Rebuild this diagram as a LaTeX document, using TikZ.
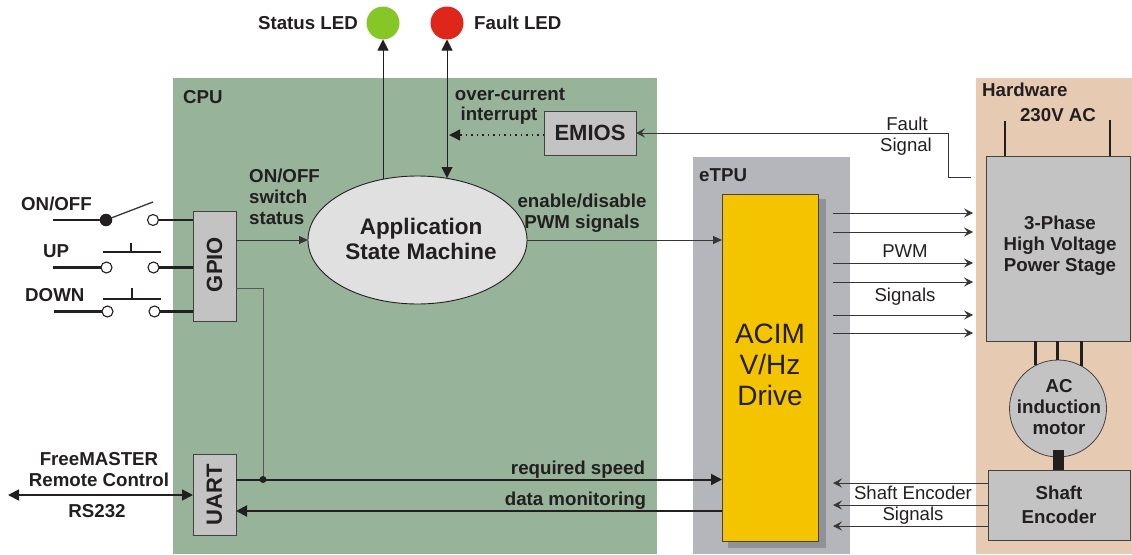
\documentclass[tikz,border=0pt]{standalone}
\usepackage{fontspec}
\setmainfont{Liberation Sans}
\usetikzlibrary{arrows.meta,shapes.geometric}
\definecolor{ink}{HTML}{231F20}
\definecolor{cpugreen}{HTML}{97B49B}
\definecolor{etpugrey}{HTML}{B4B6BB}
\definecolor{shadowgrey}{HTML}{8F9297}
\definecolor{hwtan}{HTML}{E6CBB2}
\definecolor{boxgrey}{HTML}{C2C3C2}
\definecolor{ellgrey}{HTML}{E0E0E0}
\definecolor{acimyellow}{HTML}{F5C400}
\definecolor{ledgreen}{HTML}{86C627}
\definecolor{ledred}{HTML}{DE261B}
\newcommand{\fs}[1]{\fontsize{#1}{#1}\selectfont}
\tikzset{
  panel/.style={draw=none,inner sep=0pt,outer sep=0pt},
  blockbox/.style={draw=ink!85,line width=.8pt,fill=boxgrey,inner sep=0pt,outer sep=0pt,text=ink,font=\bfseries\fs{18.7},align=center},
  lab/.style={text=ink,font=\bfseries\fs{18.7},align=center,inner sep=0pt},
  lablight/.style={text=ink,font=\fs{18.6},align=center,inner sep=0pt},
  terminal/.style={circle,draw=ink,line width=1.1pt,fill=white,minimum size=11pt,inner sep=0pt,outer sep=0pt},
  pivot/.style={circle,fill=ink,minimum size=12.5pt,inner sep=0pt,outer sep=0pt},
  led/.style={circle,minimum size=33pt,inner sep=0pt,outer sep=0pt},
  wire/.style={draw=ink,line width=2.6pt},
  thin/.style={draw=ink!90,line width=1pt},
  thintip/.style={thin,-{Stealth[length=9pt,width=9pt,inset=3.5pt]}},
  thicktip/.style={draw=ink,line width=2pt,-{Triangle[length=11pt,width=11pt]}},
  midtip/.style={draw=ink,line width=1pt,-{Triangle[length=11pt,width=11pt]}},
  dot/.style={circle,fill=ink,minimum size=7pt,inner sep=0pt,outer sep=0pt},
}
\begin{document}
\begin{tikzpicture}[x=1pt,y=-1pt]
\useasboundingbox (0,0) rectangle (1132,554);
% panels
\node[panel,fill=cpugreen,minimum width=484pt,minimum height=476pt] (cpu) at (415,316) {};
\node[panel,fill=etpugrey,minimum width=157pt,minimum height=397pt] (etpu) at (771.5,355.5) {};
\node[panel,fill=hwtan,minimum width=156pt,minimum height=476pt] (hw) at (1054,316) {};
\node[panel,fill=shadowgrey,minimum width=98pt,minimum height=349pt] (acimshadow) at (777,373.5) {};
% blocks
\node[blockbox,minimum width=96pt,minimum height=347pt,fill=acimyellow,line width=.9pt] (acim) at (770,367.5) {};
\node[text=ink,font=\fs{28},align=center,inner sep=0pt] (acimt) at (770,365) {ACIM\\[3pt]V/Hz\\[3pt]Drive};
\node[blockbox,minimum width=43pt,minimum height=110pt] (gpio) at (214.5,266) {};
\node[text=ink,font=\bfseries\fs{22},rotate=90,inner sep=0pt] (gpiot) at (214.5,264.5) {GPIO};
\node[blockbox,minimum width=43pt,minimum height=81pt] (uart) at (214.5,494.5) {};
\node[text=ink,font=\bfseries\fs{22},rotate=90,inner sep=0pt] (uartt) at (214.5,494.5) {UART};
\node[blockbox,minimum width=92pt,minimum height=44pt,font=\bfseries\fs{22}] (emios) at (590,133) {EMIOS};
\node[draw=ink,line width=.9pt,fill=ellgrey,ellipse,minimum width=219pt,minimum height=128pt,inner sep=0pt,outer sep=0pt] (sm) at (417.5,240) {};
\node[text=ink,font=\bfseries\fs{22.5},align=center,inner sep=0pt] (smt) at (421,239) {Application\\[2.5pt]State Machine};
% hardware lines first
\coordinate (ac1) at (1005,121);
\coordinate (ac2) at (1110,120);
\node[blockbox,minimum width=144pt,minimum height=185pt] (power) at (1058,248.5) {};
\node[lab] (powert) at (1060,246) {3-Phase\\[2.5pt]High Voltage\\[2.5pt]Power Stage};
\node[blockbox,circle,minimum size=97pt] (motor) at (1058,408.5) {};
\node[lab] (motort) at (1059,407) {AC\\[2.5pt]induction\\[2.5pt]motor};
\node[blockbox,minimum width=142pt,minimum height=70pt] (shaft) at (1059,505) {Shaft\\[5pt]Encoder};
\node[panel,fill=ink,minimum width=11pt,minimum height=20pt] (shaftlink) at (1058.5,460) {};
\draw[wire] (ac1) -- (ac1 |- power.north);
\draw[wire] (ac2) -- (ac2 |- power.north);
\coordinate (m1) at (1035,341);
\coordinate (m2) at (1057,341);
\coordinate (m3) at (1081,341);
\coordinate (me1) at (1035,365);
\coordinate (me2) at (1057,360);
\coordinate (me3) at (1081,366);
\draw[wire,line width=3pt] (m1) -- (me1);
\draw[wire,line width=3pt] (m2) -- (me2);
\draw[wire,line width=3pt] (m3) -- (me3);
% LEDs
\node[led,fill=ledgreen] (ledS) at (383,23) {};
\node[led,fill=ledred] (ledF) at (447,23) {};
\coordinate (smS) at (383,179);
\coordinate (smF) at (447,178);
\draw[midtip] (smS) -- (ledS.south);
\draw[midtip,{Triangle[length=11pt,width=11pt]}-{Triangle[length=11pt,width=11pt]}] (smF) -- (ledF.south);
\coordinate (faultbus) at (449,135);
\draw[draw=ink,line width=1.4pt,dash pattern=on 1.5pt off 4pt,-{Triangle[length=11pt,width=11pt]}] (emios.west |- faultbus) -- (faultbus);
\coordinate (fs1) at (971,177);
\coordinate (fs2) at (948,177);
\coordinate (fs3) at (948,133);
\draw[thintip] (fs1) -- (fs2) -- (fs3) -- (emios.east);
% switches
\coordinate (on0) at (53,220);
\node[pivot] (onp) at (106,220) {};
\coordinate (onb) at (153,202);
\node[terminal] (ont) at (153,220) {};
\draw[wire] (on0) -- (onp);
\draw[thin,line width=1.3pt] (onp) -- (onb);
\draw[wire] (ont) -- (ont -| gpio.west);
\coordinate (up0) at (53,267);
\node[terminal] (upa) at (106.5,267.5) {};
\node[terminal] (upb) at (153.5,267.5) {};
\draw[wire] (up0 |- upa) -- (upa);
\draw[wire] (upb) -- (upb -| gpio.west);
\coordinate (upl) at (103,252);
\coordinate (upr) at (161,252);
\coordinate (ups) at (131,243);
\draw[wire] (upl) -- (upr);
\draw[wire] (ups) -- (ups |- upl);
\coordinate (dn0) at (54,311);
\node[terminal] (dna) at (107.5,311.5) {};
\node[terminal] (dnb) at (154.5,311.5) {};
\draw[wire] (dn0 |- dna) -- (dna);
\draw[wire] (dnb) -- (dnb -| gpio.west);
\coordinate (dnl) at (103,299);
\coordinate (dnr) at (161,299);
\coordinate (dns) at (132,288);
\draw[wire] (dnl) -- (dnr);
\draw[wire] (dns) -- (dns |- dnl);
% GPIO links
\draw[thin,-{Triangle[length=9pt,width=8pt]}] (gpio.east |- sm.west) -- (sm.west);
\draw[thin,-{Triangle[length=9pt,width=8pt]}] (sm.east) -- (acim.west |- sm.east);
\coordinate (gpioout) at (236,288.5);
\coordinate (gpiobend) at (263,288.5);
\coordinate (uartout) at (236,479.5);
\coordinate (uartin) at (236,511);
\node[dot] (junc) at (263,479.5) {};
\draw[thin,line width=1pt,draw=ink!75] (gpioout) -- (gpiobend) -- (junc);
\draw[thicktip] (uartout) -- (acim.west |- uartout);
\draw[thicktip] (acim.west |- uartin) -- (uartin);
\coordinate (rsl) at (8,495);
\draw[draw=ink,line width=1.8pt,{Triangle[length=11pt,width=11pt]}-{Triangle[length=11pt,width=11pt]}] (rsl) -- (uart.west |- rsl);
% PWM arrows
\foreach \n/\y in {1/213,2/232,3/263,4/282,5/315,6/333}{
  \coordinate (pl\n) at (833,\y);
  \coordinate (pr\n) at (973,\y);
  \draw[thintip] (pl\n) -- (pr\n);
}
% encoder arrows
\foreach \n/\y in {1/483,2/505,3/526}{
  \coordinate (el\n) at (833,\y);
  \draw[thintip] (shaft.west |- el\n) -- (el\n);
}
% labels
\node[lab,anchor=east] (tS) at (358,23.5) {Status LED};
\node[lab,anchor=west] (tF) at (474,22.5) {Fault LED};
\node[lab,anchor=west] (tCPU) at (183,97) {CPU};
\node[lab,anchor=west] (tE) at (699,175) {eTPU};
\node[lab,anchor=west] (tH) at (982,90) {Hardware};
\node[lab] (tAC) at (1058,115) {230V AC};
\node[lab] (tOC) at (510,94) {over-current};
\node[lab] (tINT) at (499,116) {interrupt};
\node[lab,anchor=west] (tON) at (21,204) {ON/OFF};
\node[lab,anchor=west] (tUP) at (43,251) {UP};
\node[lab,anchor=west] (tDN) at (25,295) {DOWN};
\node[lab,anchor=west] (tSW) at (249,176) {ON/OFF};
\node[lab,anchor=west] (tSW2) at (249,197) {switch};
\node[lab,anchor=west] (tSW3) at (249,218) {status};
\node[lab] (tEN) at (582,201) {enable/disable};
\node[lab] (tPW) at (582,224) {PWM signals};
\node[lab] (tFM) at (99,459) {FreeMASTER};
\node[lab] (tRC) at (99,480) {Remote Control};
\node[lab] (tRS) at (97,511) {RS232};
\node[lab] (tRQ) at (578,470) {required speed};
\node[lab] (tDM) at (575.5,501) {data monitoring};
\node[lablight] (tFa) at (907,124) {Fault};
\node[lablight] (tSi) at (906,147) {Signal};
\node[lablight] (tPWM) at (905,251) {PWM};
\node[lablight] (tSg) at (905,297) {Signals};
\node[lablight] (tSE) at (913,493) {Shaft Encoder};
\node[lablight] (tSS) at (913,516) {Signals};
\end{tikzpicture}
\end{document}
